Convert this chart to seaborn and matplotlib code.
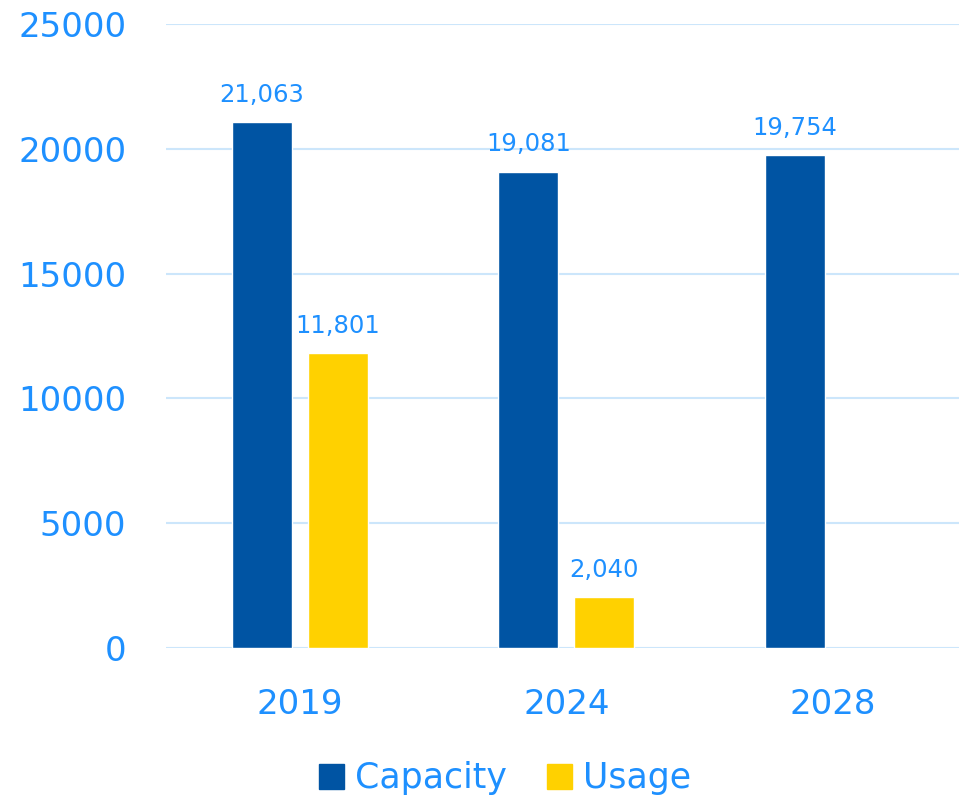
import numpy as np
import pandas as pd
import matplotlib
matplotlib.use("Agg")
import matplotlib.pyplot as plt
import seaborn as sns
from matplotlib.lines import Line2D

years = ["2019", "2024", "2028"]
capacity = [21063, 19081, 19754]
usage = [11801, 2040, np.nan]
series = ["Capacity", "Usage"]
yticks = [0, 5000, 10000, 15000, 20000, 25000]

colors = {"Capacity": "#0054A3", "Usage": "#FFD100"}
text_color = "#1E90FF"
grid_color = "#CCE6FB"

df = pd.DataFrame({
    "year": years * 2,
    "series": ["Capacity"] * 3 + ["Usage"] * 3,
    "value": capacity + usage,
})

sns.set_theme(style="white")
plt.rcParams["font.family"] = ["DejaVu Sans"]

fig = plt.figure(figsize=(9.59, 7.98), dpi=100)
ax = fig.add_axes([0.1736, 0.188, 0.834, 0.782])

sns.barplot(data=df, x="year", y="value", hue="series", order=years,
            hue_order=series, palette=colors, width=0.57, gap=0.21,
            ax=ax, legend=False, saturation=1, errorbar=None)

for cont in ax.containers:
    for patch in cont.patches:
        if patch is None:
            continue
        h = patch.get_height()
        if np.isnan(h):
            continue
        ax.annotate(f"{int(round(h)):,}",
                    (patch.get_x() + patch.get_width() / 2, h),
                    xytext=(0, 11), textcoords="offset points",
                    ha="center", va="bottom", color=text_color, fontsize=17.5)

ax.set_ylim(0, 25000)
ax.set_xlim(-0.5, 2.5)
ax.set_yticks(yticks)
ax.set_yticklabels([str(t) for t in yticks])
ax.grid(axis="y", color=grid_color, linewidth=1.5)
ax.set_axisbelow(True)
for s in ax.spines.values():
    s.set_visible(False)
ax.tick_params(axis="y", length=0, pad=29, labelsize=24.5, labelcolor=text_color)
ax.tick_params(axis="x", length=0, pad=29, labelsize=24.5, labelcolor=text_color)
ax.set_xlabel("")
ax.set_ylabel("")

handles = [Line2D([0], [0], marker="s", linestyle="", markersize=18,
                  markerfacecolor=colors[s], markeredgecolor=colors[s]) for s in series]
leg = fig.legend(handles, series, loc="center", bbox_to_anchor=(0.524, 0.025),
                 ncol=2, frameon=False, fontsize=25, handletextpad=0.2,
                 columnspacing=1.0, handlelength=1.0)
for t in leg.get_texts():
    t.set_color(text_color)

fig.savefig("out.png", dpi=100)
